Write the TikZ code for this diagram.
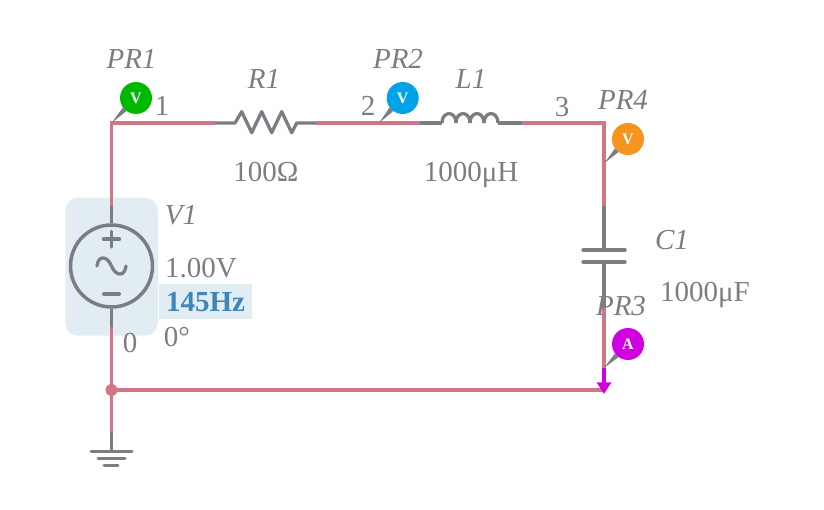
\documentclass[tikz,border=0pt]{standalone}
\usepackage{fontspec}
\setmainfont{Liberation Serif}
\usetikzlibrary{arrows.meta}
\definecolor{wirepink}{HTML}{D27585}
\definecolor{partgrey}{HTML}{7A7D82}
\definecolor{boxblue}{HTML}{E2ECF3}
\definecolor{hzblue}{HTML}{3F85B8}
\definecolor{probegreen}{HTML}{00B900}
\definecolor{probecyan}{HTML}{00A2E8}
\definecolor{probeorange}{HTML}{F7941D}
\definecolor{probemagenta}{HTML}{D000E0}
\tikzset{
  wire/.style={draw=wirepink, line width=3.3pt},
  part/.style={draw=partgrey, line width=3.3pt, line join=round},
  plate/.style={draw=partgrey, line width=4.5pt, line cap=round},
  gndbar/.style={draw=partgrey, line width=3pt, line cap=round},
  valtext/.style={text=partgrey, inner sep=0pt, font=\fontsize{29}{33}\selectfont},
  reftext/.style={valtext, font=\fontsize{29}{33}\selectfont\itshape},
  probe/.style={circle, fill=#1, draw=none, minimum size=32pt, inner sep=0pt, text=white, font=\fontsize{16}{18}\selectfont\bfseries}
}
\begin{document}
\begin{tikzpicture}[x=1pt, y=-1pt]
      \useasboundingbox (0, 0) rectangle (824, 510);

      % Backgrounds
      \node[fill=boxblue, rounded corners=13pt, minimum width=92.5pt, minimum height=138pt, inner sep=0pt] (srcbox) at (111.5, 266.7) {};
      \node[fill=boxblue, minimum width=93pt, minimum height=34.7pt, inner sep=0pt] (hzbox) at (205.5, 301.4) {};

      % Corners and ends of parts
      \coordinate (tl) at (111.5, 123);
      \coordinate (tr) at (604, 123);
      \coordinate (bl) at (111.5, 390);
      \coordinate (br) at (604, 390);
      \coordinate (srctop) at (111.5, 206);
      \coordinate (srcbot) at (111.5, 327);
      \coordinate (gndtop) at (111.5, 432);
      \coordinate (gnd) at (111.5, 451);
      \coordinate (rleft) at (215, 123);
      \coordinate (rright) at (316, 123);
      \coordinate (lleft) at (420, 123);
      \coordinate (lright) at (521.5, 123);
      \coordinate (capa) at (604, 206);
      \coordinate (capb) at (604, 250);
      \coordinate (capc) at (604, 262);
      \coordinate (capd) at (604, 307);
      \coordinate (ammeter) at (604, 368);
      \coordinate (arrowend) at (604, 394);
      \coordinate (tipbr) at (379, 123);
      \coordinate (tipfr) at (604.5, 163);

      % Edges
      \draw[wire] (srctop) -- (tl) -- (rleft);
      \draw[wire] (rright) -- (lleft);
      \draw[wire] (lright) -- (tr) -- (capa);
      \draw[wire] (srcbot) -- (gndtop);
      \draw[wire] (bl) -- (br);
      \draw[wire] (capd) -- (ammeter);
      \fill[wirepink] (bl) circle (6);

      % Source
      \node[circle, draw=partgrey, line width=3.5pt, minimum size=82pt, inner sep=0pt] (src) at (111.5, 266) {};
      \draw[part] (srctop) -- (src.north);
      \draw[part] (src.south) -- (srcbot);
      \draw[part, line cap=round] (103.5, 239) -- (119.5, 239) (111.5, 231.5) -- (111.5, 247);
      \draw[part, line width=4pt, line cap=round] (104, 294) -- (119, 294);
      \draw[part, line cap=round] (97, 266) .. controls (98, 255.5) and (107, 255) .. (111.5, 266) .. controls (116, 277) and (125, 276.5) .. (126, 266);

      % Ground
      \draw[part] (gndtop) -- (gnd);
      \draw[gndbar] (91, 451) -- (132, 451);
      \draw[gndbar] (98, 458) -- (125, 458);
      \draw[gndbar] (104, 465) -- (118, 465);

      % Resistor
      \draw[part] (rleft) -- (235, 123) -- (241.7, 111.7) -- (251.7, 132.7) -- (261.7, 111.7) -- (271.7, 132.7) -- (281.7, 111.7) -- (291.7, 132.7) -- (296.7, 123) -- (rright);

      % Inductor
      \draw[part] (lleft) -- (442, 123);
      \foreach \x in {442, 456, 470, 484}
        \draw[part] (\x, 123) .. controls (\x, 110.5) and (\x+14, 110.5) .. (\x+14, 123);
      \draw[part] (498, 123) -- (lright);

      % Capacitor
      \draw[part] (capa) -- (capb);
      \draw[part] (capc) -- (capd);
      \draw[plate] (583.5, 250) -- (624.5, 250);
      \draw[plate] (583.5, 262) -- (624.5, 262);

      % Probes
      \node[probe=probegreen] (prone) at (136, 98) {V};
      \node[probe=probecyan] (prtwo) at (402.7, 98) {V};
      \node[probe=probeorange] (prfour) at (628, 139) {V};
      \node[probe=probemagenta] (prthree) at (628, 344) {A};
      \fill[partgrey] (tl) -- (prone.216) -- (prone.234) -- cycle;
      \fill[partgrey] (tipbr) -- (prtwo.216) -- (prtwo.234) -- cycle;
      \fill[partgrey] (tipfr) -- (prfour.216) -- (prfour.234) -- cycle;
      \fill[partgrey] (ammeter) -- (prthree.216) -- (prthree.234) -- cycle;
      \draw[draw=probemagenta, line width=3.6pt, -{Triangle[length=11.7pt, width=14pt]}] (ammeter) -- (arrowend);

      % Labels
      \node[reftext] (prtext) at (131.5, 59) {PR1};
      \node[reftext] (rname) at (264, 79) {R1};
      \node[reftext] (prtwotext) at (398, 59) {PR2};
      \node[reftext] (lname) at (471, 79) {L1};
      \node[reftext] (prfourtext) at (623, 100) {PR4};
      \node[reftext] (vname) at (181, 215) {V1};
      \node[reftext] (cname) at (672, 240) {C1};
      \node[reftext] (prthreetext) at (621, 306) {PR3};
      \node[valtext] (nodeone) at (162, 106) {1};
      \node[valtext] (nodetwo) at (368, 106) {2};
      \node[valtext] (nodethree) at (562, 107) {3};
      \node[valtext] (nodezero) at (130, 343) {0};
      \node[valtext] (rvalue) at (266, 172) {100Ω};
      \node[valtext] (lvalue) at (471, 174.5) {1000μH};
      \node[valtext] (cvalue) at (705, 294.5) {1000μF};
      \node[valtext] (volts) at (201, 268) {1.00V};
      \node[valtext, text=hzblue, font=\fontsize{29}{33}\selectfont\bfseries] (hertz) at (205.5, 302) {145Hz};
      \node[valtext] (phase) at (177, 337) {0°};
    \end{tikzpicture}
\end{document}
